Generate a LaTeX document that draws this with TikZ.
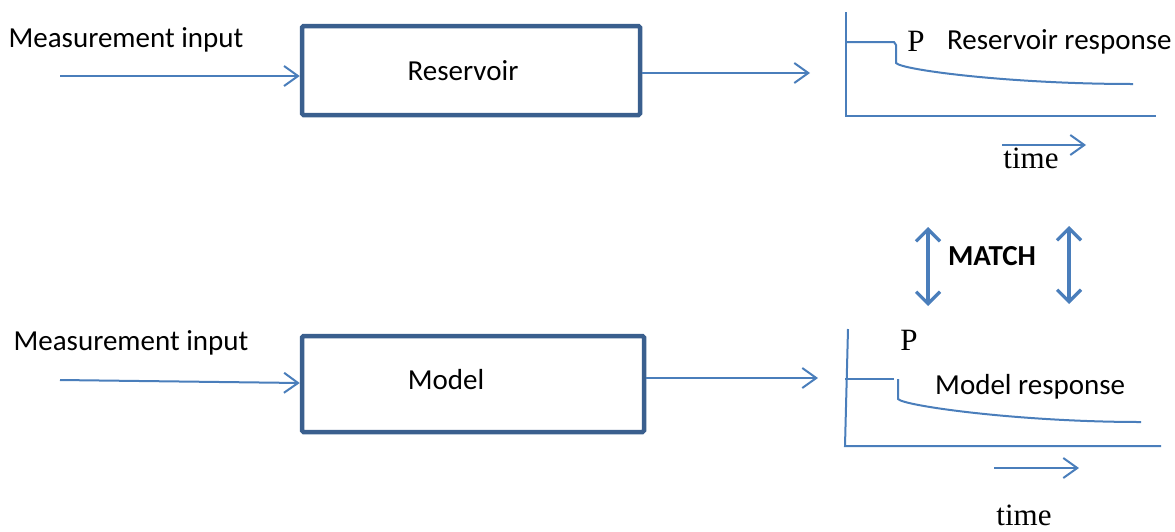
\documentclass[tikz,border=0pt]{standalone}
\usepackage{fontspec}
\setmainfont{Carlito}
\newfontfamily\serifface{Liberation Serif}
\usetikzlibrary{arrows.meta}
\definecolor{flow}{HTML}{4A7EBB}
\definecolor{frame}{HTML}{3A5F8E}
\begin{document}
\begin{tikzpicture}[x=1pt,y=-1pt,
  txt/.style={inner sep=0pt,font=\fontsize{29}{33}\selectfont},
  serif/.style={inner sep=0pt,font=\serifface\fontsize{31}{34}\selectfont},
  blockbox/.style={draw=frame,line width=4.5pt,rounded corners=1.5pt,inner sep=0pt,fill=white},
  flowarrow/.style={draw=flow,line width=2pt,-{Straight Barb[length=14pt,width=20pt,line width=2pt]}},
  plotline/.style={draw=flow,line width=2pt},
  matcharrow/.style={draw=flow,line width=3.2pt,{Straight Barb[length=12pt,width=24pt]}-{Straight Barb[length=12pt,width=24pt]}}]
\useasboundingbox (0,0) rectangle (1175,531);

% process blocks
\node[blockbox,minimum width=338pt,minimum height=89pt,
      label={[txt,xshift=-8pt]center:Reservoir}] (res) at (471,70.5) {};
\node[blockbox,minimum width=342pt,minimum height=96pt,
      label={[txt,xshift=-27pt,yshift=4pt]center:Model}] (mod) at (473,384) {};

% input labels
\node[txt] (intop) at (126,40) {Measurement input};
\node[txt] (inbot) at (131,343) {Measurement input};

% inputs and outputs
\coordinate (in1) at (60,76);
\coordinate (out1) at (810,73);
\coordinate (in2) at (60,380);
\coordinate (out2) at (818,378);
\draw[flowarrow] (in1) -- (in1 -| res.west);
\draw[flowarrow] (out1 -| res.east) -- (out1);
\draw[flowarrow] (in2) -- ([yshift=1pt]mod.west);
\draw[flowarrow] (out2 -| mod.east) -- (out2);

% reservoir response plot
\draw[plotline] (846,12) -- (846,116) -- (1156,116);
\draw[plotline] (846,42) -- (894,42) -- (896,45) -- (896,63)
  .. controls (902,70) and (1010,84) .. (1133,84);
\node[serif] (ptop) at (916,41) {P};
\node[txt,anchor=west] (restxt) at (947,42) {Reservoir response};
\coordinate (t1a) at (1002,145);
\coordinate (t1b) at (1086,145);
\draw[flowarrow] (t1a) -- (t1b);
\node[serif] (timetop) at (1031,158) {time};

% comparison
\coordinate (m1a) at (928,227);
\coordinate (m1b) at (928,306);
\coordinate (m2a) at (1069,226);
\coordinate (m2b) at (1069,304);
\draw[matcharrow] (m1a) -- (m1b);
\draw[matcharrow] (m2a) -- (m2b);
\node[txt,font=\bfseries\fontsize{29}{33}\selectfont] (match) at (992,256) {MATCH};

% model response plot
\draw[plotline] (848,329) -- (845,446) -- (1161,446);
\draw[plotline] (845,379) -- (894,379);
\draw[plotline] (898,379) -- (898,399)
  .. controls (904,406) and (1020,422) .. (1141,422);
\node[serif] (pbot) at (909,340) {P};
\node[txt,anchor=west] (modtxt) at (935,387) {Model response};
\coordinate (t2a) at (994,468);
\coordinate (t2b) at (1079,468);
\draw[flowarrow] (t2a) -- (t2b);
\node[serif] (timebot) at (1024,515) {time};
\end{tikzpicture}
\end{document}
